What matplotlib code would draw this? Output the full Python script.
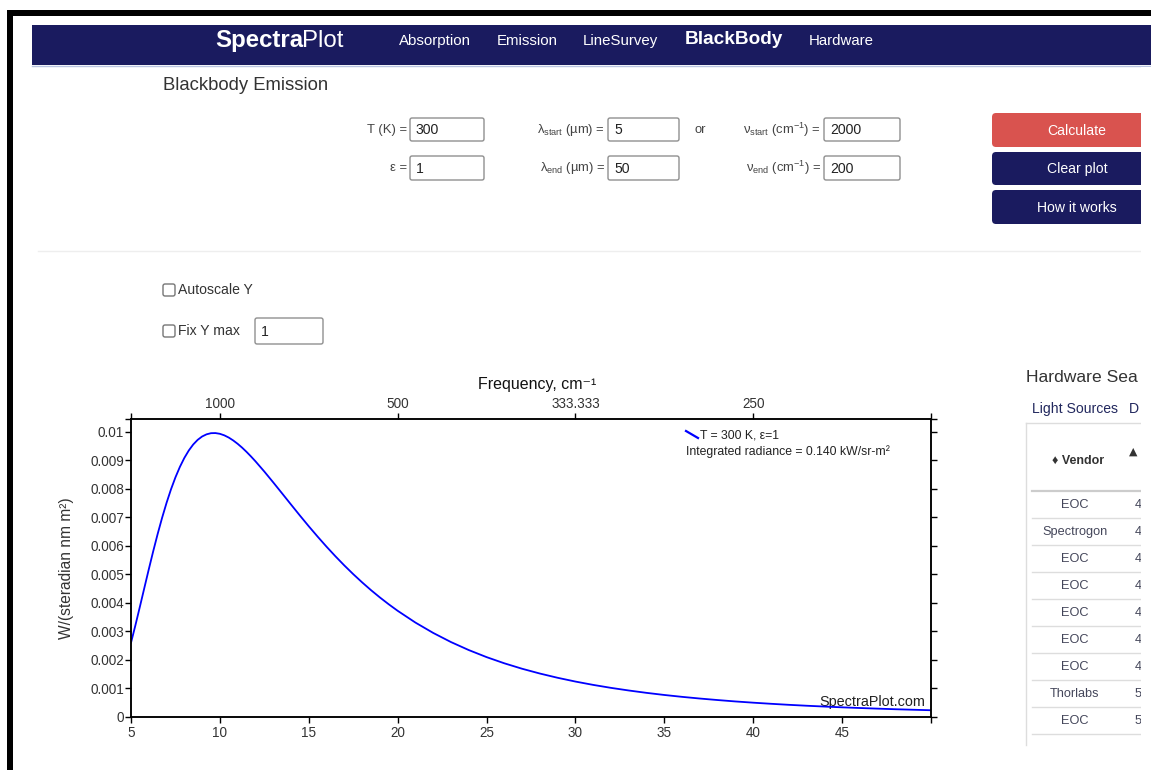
import matplotlib.pyplot as plt
from matplotlib.patches import Rectangle, FancyBboxPatch

plt.rcParams['font.family'] = ['Liberation Sans', 'DejaVu Sans']
plt.rcParams['mathtext.fontset'] = 'custom'
plt.rcParams['mathtext.rm'] = 'Liberation Sans'
plt.rcParams['mathtext.it'] = 'Liberation Sans:italic'
plt.rcParams['mathtext.bf'] = 'Liberation Sans:bold'

# blackbody curve (wavelength in um, radiance in W/(sr nm m2))
wavelength = [5, 5.25, 5.5, 5.75, 6, 6.25, 6.5, 6.75, 7, 7.25, 7.5, 7.75, 8, 8.25,
              8.5, 8.75, 9, 9.25, 9.5, 9.75, 10, 10.25, 10.5, 10.75, 11, 11.25,
              11.5, 11.75, 12, 12.5, 13, 13.5, 14, 14.5, 15, 15.5, 16, 16.5, 17,
              17.5, 18, 18.5, 19, 19.5, 20, 21, 22, 23, 24, 25, 26, 27, 28, 29,
              30, 31, 32, 33, 34, 35, 36, 37, 38, 39, 40, 41, 42, 43, 44, 45, 46,
              47, 48, 49, 50]
radiance = [0.002603, 0.003220, 0.003866, 0.004523, 0.005175, 0.005811, 0.006416,
            0.006983, 0.007506, 0.007980, 0.008400, 0.008766, 0.009079, 0.009340,
            0.009551, 0.009713, 0.009831, 0.009907, 0.009947, 0.009951, 0.009925,
            0.009871, 0.009793, 0.009692, 0.009574, 0.009440, 0.009291, 0.009131,
            0.008962, 0.008602, 0.008223, 0.007836, 0.007447, 0.007061, 0.006684,
            0.006320, 0.005968, 0.005632, 0.005311, 0.005007, 0.004719, 0.004446,
            0.004190, 0.003949, 0.003722, 0.003309, 0.002946, 0.002626, 0.002346,
            0.002099, 0.001882, 0.001691, 0.001523, 0.001374, 0.001242, 0.001125,
            0.001021, 0.000929, 0.000846, 0.000772, 0.000706, 0.000647, 0.000594,
            0.000545, 0.000502, 0.000463, 0.000427, 0.000395, 0.000366, 0.000339,
            0.000315, 0.000293, 0.000272, 0.000254, 0.000237]

x_ticks = [5, 10, 15, 20, 25, 30, 35, 40, 45]
y_ticks = [0, 0.001, 0.002, 0.003, 0.004, 0.005, 0.006, 0.007, 0.008, 0.009, 0.01]
y_tick_labels = ['0', '0.001', '0.002', '0.003', '0.004', '0.005', '0.006',
                 '0.007', '0.008', '0.009', '0.01']
freq_tick_pos = [10, 20, 30, 40]
freq_tick_labels = ['1000', '500', '333.333', '250']

nav_items = ['Absorption', 'Emission', 'LineSurvey', 'BlackBody', 'Hardware']
vendors = ['EOC', 'Spectrogon', 'EOC', 'EOC', 'EOC', 'EOC', 'EOC', 'Thorlabs', 'EOC']
vendor_col2 = ['4', '4', '4', '4', '4', '4', '4', '5', '5']

navy = '#1a1b5f'
text_col = '#333333'


def pt(px):
    # css pixel size -> points at dpi 100
    return px * 0.72


fig = plt.figure(figsize=(11.51, 7.70), dpi=100)
page = fig.add_axes([0, 0, 1, 1])
page.set_xlim(0, 1151)
page.set_ylim(770, 0)
page.axis('off')
page.set_zorder(0)

# screenshot frame + navbar
page.add_patch(Rectangle((7, 10), 1144, 6, fc='black', ec='none', zorder=11))
page.add_patch(Rectangle((7, 10), 6, 760, fc='black', ec='none', zorder=11))
page.add_patch(Rectangle((32, 25), 1119, 40, fc=navy, ec='none'))
page.plot([32, 1151], [66, 66], color='#b8c4e0', lw=1)

page.text(215, 41, 'Spectra', color='white', fontsize=pt(24), fontweight='bold', va='center')
page.text(302, 41, 'Plot', color='white', fontsize=pt(24), va='center')
nav_x = [399, 497, 583, 685, 809]
for name, nx in zip(nav_items, nav_x):
    if name == 'BlackBody':
        page.text(nx, 40, name, color='white', fontsize=pt(19), fontweight='bold', va='center')
    else:
        page.text(nx, 41, name, color='white', fontsize=pt(15), va='center')

page.text(163, 85, 'Blackbody Emission', color=text_col, fontsize=pt(18.5), va='center')


def field(x0, y0, x1, y1, txt):
    page.add_patch(FancyBboxPatch((x0, y0), x1 - x0, y1 - y0,
                                  boxstyle='round,pad=0,rounding_size=2',
                                  fc='white', ec='#8f8f8f', lw=1))
    page.text(x0 + 6, (y0 + y1) / 2 + 1, txt, fontsize=pt(14), va='center', color='#222222')


# input row
lab = dict(fontsize=pt(13), color='#444444', va='center', ha='right')
page.text(407, 130, 'T (K) =', **lab)
page.text(407, 168, 'ε =', **lab)
page.text(605, 130, r'λ$_{\mathrm{start}}$ (µm) =', **lab)
page.text(605, 168, r'λ$_{\mathrm{end}}$ (µm) =', **lab)
page.text(700, 130, 'or', fontsize=pt(13), color='#444444', va='center', ha='center')
page.text(821, 130, r'ν$_{\mathrm{start}}$ (cm$^{-1}$) =', **lab)
page.text(821, 168, r'ν$_{\mathrm{end}}$ (cm$^{-1}$) =', **lab)
field(410, 118, 484, 141, '300')
field(410, 156, 484, 180, '1')
field(608, 118, 679, 141, '5')
field(608, 156, 679, 180, '50')
field(824, 118, 900, 141, '2000')
field(824, 156, 900, 180, '200')

# buttons
for y0, y1, fc, txt in [(113, 147, '#d9534f', 'Calculate'),
                        (152, 185, navy, 'Clear plot'),
                        (190, 224, navy, 'How it works')]:
    page.add_patch(FancyBboxPatch((992, y0), 170, y1 - y0,
                                  boxstyle='round,pad=0,rounding_size=4', fc=fc, ec='none'))
    page.text(1077, (y0 + y1) / 2 + 1, txt, color='white', fontsize=pt(14), ha='center', va='center')

page.plot([38, 1141], [251, 251], color='#eeeeee', lw=1)

# checkboxes
for cy, txt in [(290, 'Autoscale Y'), (331, 'Fix Y max')]:
    page.add_patch(FancyBboxPatch((163, cy - 6), 12, 12, boxstyle='round,pad=0,rounding_size=2',
                                  fc='white', ec='#767676', lw=1))
    page.text(178, cy, txt, fontsize=pt(14), color=text_col, va='center')
field(255, 318, 323, 344, '1')

# right side hardware table (cut off by the screenshot edge)
page.text(1026, 378, 'Hardware Sea', fontsize=pt(17.5), color=text_col, va='center')
page.text(1032, 409, 'Light Sources', fontsize=pt(14), color='#22285e', va='center')
page.text(1129, 409, 'D', fontsize=pt(14), color='#22285e', va='center')
page.plot([1026, 1026], [423, 745], color='#dddddd', lw=1)
page.plot([1026, 1141], [423, 423], color='#dddddd', lw=1)
page.text(1078, 461, '♦ Vendor', fontsize=pt(12.5), fontweight='bold', color=text_col,
          ha='center', va='center')
page.text(1133, 452, '▲', fontsize=pt(11), color=text_col, ha='center', va='center',
          family=['DejaVu Sans'])
page.plot([1032, 1141], [491, 491], color='#cccccc', lw=1.6)
for i, (v, c) in enumerate(zip(vendors, vendor_col2)):
    ry = 505 + 27 * i
    page.text(1075, ry, v, fontsize=pt(12.8), color='#44465a', ha='center', va='center')
    page.text(1135, ry, c, fontsize=pt(12.8), color='#44465a', va='center')
    page.plot([1032, 1141], [ry + 13, ry + 13], color='#dddddd', lw=1)

# cut page at right edge of the browser content
page.add_patch(Rectangle((1141, 67), 12, 705, fc='white', ec='none', zorder=10))

# chart labels and legend (pixel positions)
page.text(537, 384, 'Frequency, cm⁻¹', fontsize=pt(16), color='#111111', ha='center', va='center')
page.text(67, 568, 'W/(steradian nm m²)', fontsize=pt(15.5), color=text_col, rotation=90,
          ha='center', va='center')
page.plot([686, 698], [431, 438], color='#0000ff', lw=1.6)
page.text(700, 435, 'T = 300 K, ε=1', fontsize=pt(12.3), color='#222222', va='center')
page.text(686, 452, 'Integrated radiance = 0.140 kW/sr-m²', fontsize=pt(12.3), color='#222222',
          va='center')
page.text(925, 702, 'SpectraPlot.com', fontsize=pt(14.4), color='#222222', ha='right', va='center')

# the chart itself
ax = fig.add_axes([131 / 1151, (770 - 717) / 770, 800 / 1151, 298 / 770])
ax.set_zorder(1)
ax.patch.set_visible(False)
ax.plot(wavelength, radiance, color='#0000ff', lw=1.3)
ax.set_xlim(5, 50)
ax.set_ylim(0, 0.010444)
ax.set_xticks(x_ticks)
ax.set_xticks([50], minor=True)
ax.set_yticks(y_ticks, y_tick_labels)
ax.set_yticks([0.010444], minor=True)
ax.tick_params(which='both', direction='out', length=4.3, width=1, colors='black',
               labelcolor=text_col, labelsize=pt(13.5))
ax.tick_params(axis='x', pad=2.5)
ax.tick_params(axis='y', pad=0.8, right=True, which='both')
for s in ax.spines.values():
    s.set_linewidth(1.1)

top = ax.twiny()
top.set_xlim(5, 50)
top.set_xticks(freq_tick_pos, freq_tick_labels)
top.set_xticks([5, 50], minor=True)
top.tick_params(which='both', direction='out', length=4.3, width=1, labelcolor=text_col,
                labelsize=pt(13.5), pad=1.2)
for s in top.spines.values():
    s.set_linewidth(1.1)

fig.savefig('out.png', dpi=100)
